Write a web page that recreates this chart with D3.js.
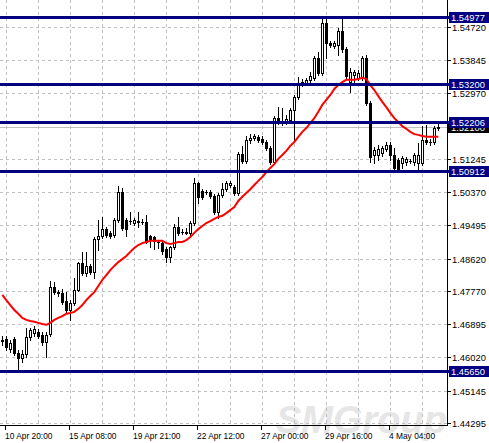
<!DOCTYPE html>
<html><head><meta charset="utf-8">
<script src="https://cdn.jsdelivr.net/npm/d3@7"></script>
<style>html,body{margin:0;padding:0;background:#fff;overflow:hidden}svg{display:block}</style>
</head><body>
<svg id="c" width="489" height="443"></svg>
<script>
const open=[1.4648,1.4651,1.4625,1.4651,1.4614,1.4601,1.4611,1.4656,1.4666,1.4669,
1.4661,1.4643,1.4664,1.4788,1.4774,1.4772,1.4750,1.4727,1.4745,1.4780,
1.4851,1.4824,1.4843,1.4827,1.4914,1.4922,1.4940,1.4930,1.4924,1.4964,
1.5038,1.4964,1.4961,1.4956,1.4959,1.4959,1.4959,1.4922,1.4919,1.4906,
1.4903,1.4888,1.4867,1.4893,1.4945,1.4932,1.4932,1.4930,1.4956,1.5061,
1.5040,1.5038,1.5038,1.5027,1.4985,1.5030,1.5046,1.5056,1.5051,1.5035,
1.5138,1.5119,1.5175,1.5180,1.5182,1.5177,1.5169,1.5154,1.5117,1.5232,
1.5225,1.5222,1.5227,1.5254,1.5288,1.5325,1.5325,1.5333,1.5338,1.5390,
1.5351,1.5483,1.5430,1.5422,1.5425,1.5461,1.5414,1.5327,1.5346,1.5338,
1.5338,1.5390,1.5272,1.5135,1.5135,1.5140,1.5151,1.5161,1.5135,1.5122,
1.5114,1.5117,1.5119,1.5117,1.5114,1.5114,1.5175,1.5169,1.5169,1.5206];
const high=[1.4659,1.4659,1.4648,1.4656,1.4622,1.4622,1.4680,1.4680,1.4685,1.4677,
1.4669,1.4669,1.4803,1.4801,1.4780,1.4782,1.4774,1.4753,1.4811,1.4853,
1.4880,1.4880,1.4848,1.4919,1.4964,1.4972,1.4945,1.4935,1.4969,1.5053,
1.5048,1.4969,1.4985,1.4969,1.4985,1.4967,1.4977,1.4924,1.4922,1.4911,
1.4906,1.4893,1.4895,1.4953,1.4972,1.4940,1.4943,1.4961,1.5074,1.5064,
1.5046,1.5043,1.5043,1.5032,1.5035,1.5061,1.5067,1.5067,1.5056,1.5143,
1.5159,1.5185,1.5190,1.5190,1.5188,1.5185,1.5175,1.5159,1.5238,1.5261,
1.5259,1.5240,1.5259,1.5293,1.5340,1.5335,1.5338,1.5354,1.5396,1.5406,
1.5496,1.5495,1.5435,1.5435,1.5469,1.5498,1.5419,1.5364,1.5359,1.5359,
1.5396,1.5398,1.5277,1.5156,1.5161,1.5159,1.5169,1.5169,1.5154,1.5127,
1.5132,1.5130,1.5125,1.5140,1.5167,1.5211,1.5214,1.5177,1.5211,1.5219];
const low=[1.4635,1.4622,1.4616,1.4609,1.4569,1.4590,1.4603,1.4648,1.4659,1.4653,
1.4635,1.4603,1.4659,1.4769,1.4764,1.4743,1.4722,1.4701,1.4740,1.4777,
1.4819,1.4816,1.4822,1.4811,1.4885,1.4917,1.4919,1.4917,1.4919,1.4959,
1.4938,1.4922,1.4953,1.4951,1.4945,1.4953,1.4903,1.4893,1.4888,1.4890,
1.4874,1.4853,1.4853,1.4888,1.4924,1.4927,1.4927,1.4924,1.4951,1.5009,
1.5019,1.5032,1.5022,1.4980,1.4969,1.5024,1.5040,1.5051,1.5030,1.5030,
1.5114,1.5114,1.5167,1.5175,1.5169,1.5164,1.5148,1.5111,1.5111,1.5217,
1.5214,1.5217,1.5222,1.5175,1.5282,1.5317,1.5319,1.5327,1.5333,1.5346,
1.5346,1.5390,1.5419,1.5417,1.5398,1.5406,1.5338,1.5301,1.5327,1.5333,
1.5333,1.5267,1.5117,1.5114,1.5122,1.5132,1.5146,1.5122,1.5096,1.5090,
1.5101,1.5109,1.5114,1.5109,1.5096,1.5109,1.5164,1.5161,1.5164,1.5201];
const close=[1.4646,1.4630,1.4640,1.4614,1.4601,1.4611,1.4656,1.4674,1.4677,1.4659,
1.4643,1.4661,1.4788,1.4774,1.4772,1.4748,1.4727,1.4745,1.4780,1.4851,
1.4824,1.4843,1.4827,1.4914,1.4922,1.4940,1.4924,1.4922,1.4964,1.5038,
1.4943,1.4940,1.4962,1.4964,1.4961,1.4958,1.4906,1.4911,1.4909,1.4905,
1.4882,1.4867,1.4893,1.4945,1.4930,1.4933,1.4931,1.4956,1.5061,1.5024,
1.5024,1.5037,1.5027,1.4985,1.5030,1.5046,1.5061,1.5061,1.5035,1.5138,
1.5119,1.5175,1.5180,1.5185,1.5175,1.5169,1.5154,1.5117,1.5232,1.5222,
1.5224,1.5230,1.5254,1.5288,1.5325,1.5327,1.5333,1.5343,1.5390,1.5351,
1.5483,1.5430,1.5425,1.5430,1.5461,1.5414,1.5343,1.5354,1.5354,1.5351,
1.5390,1.5272,1.5130,1.5148,1.5151,1.5154,1.5161,1.5135,1.5101,1.5096,
1.5127,1.5125,1.5120,1.5135,1.5135,1.5175,1.5169,1.5168,1.5206,1.5210];
const ma=[1.4767,1.4753,1.4740,1.4727,1.4717,1.4706,1.4701,1.4698,1.4696,1.4693,
1.4690,1.4688,1.4693,1.4701,1.4706,1.4711,1.4717,1.4719,1.4722,1.4730,
1.4740,1.4753,1.4764,1.4774,1.4790,1.4806,1.4819,1.4832,1.4843,1.4853,
1.4861,1.4869,1.4880,1.4890,1.4898,1.4903,1.4906,1.4909,1.4909,1.4909,
1.4909,1.4903,1.4901,1.4903,1.4906,1.4906,1.4911,1.4919,1.4930,1.4940,
1.4948,1.4956,1.4961,1.4967,1.4972,1.4975,1.4982,1.4990,1.4998,1.5014,
1.5025,1.5035,1.5045,1.5056,1.5067,1.5077,1.5090,1.5101,1.5111,1.5125,
1.5135,1.5146,1.5159,1.5169,1.5183,1.5196,1.5206,1.5219,1.5232,1.5249,
1.5267,1.5280,1.5293,1.5309,1.5319,1.5327,1.5333,1.5333,1.5333,1.5335,
1.5338,1.5335,1.5319,1.5306,1.5290,1.5275,1.5261,1.5246,1.5232,1.5222,
1.5211,1.5204,1.5196,1.5190,1.5188,1.5185,1.5183,1.5183,1.5183,1.5183];
const levels=[1.54977,1.53200,1.52206,1.50912,1.45650];
const priceTicks=[1.54720,1.53845,1.52970,1.52095,1.51245,1.50370,1.49495,1.48620,1.47770,1.46895,1.46020,1.45145,1.44295];
const timeLabels=["10 Apr 20:00","15 Apr 08:00","19 Apr 21:00","22 Apr 12:00","27 Apr 00:00","29 Apr 16:00","4 May 04:00"];

const svg=d3.select("#c");
const n=close.length;
const plotR=447, plotB=425;
const FONT="'Liberation Sans', Arial, sans-serif";
const x=d3.scaleLinear().domain([0,n-1]).range([2.3,438.3]);
const y=d3.scaleLinear().domain([1.44295,1.54720]).range([423,27]);

svg.append("rect").attr("width",489).attr("height",443).attr("fill","#fff");

// watermark
svg.append("text").attr("x",276).attr("y",433).text("SMGroup")
  .attr("font-family",FONT).attr("font-size",38).attr("font-weight","bold").attr("font-style","italic")
  .attr("fill","#e6e6e6");

// grid
const grid=svg.append("g").attr("stroke","#c0c0c0").attr("stroke-width",1).attr("stroke-dasharray","3,3");
priceTicks.forEach(p=>{
  const yy=Math.round(y(p))+0.5;
  grid.append("line").attr("x1",0).attr("x2",plotR).attr("y1",yy).attr("y2",yy);
});
d3.range(1,n,8).forEach(i=>{
  const xx=Math.round(x(i))+0.5;
  grid.append("line").attr("x1",xx).attr("x2",xx).attr("y1",0).attr("y2",plotB);
});

// bid line
const bid=close[n-1];
svg.append("line").attr("x1",0).attr("x2",plotR).attr("y1",Math.round(y(bid))+0.5).attr("y2",Math.round(y(bid))+0.5)
  .attr("stroke","#c0c0c0").attr("stroke-width",1);

// candles
const cg=svg.append("g");
d3.range(n).forEach(i=>{
  const cx=Math.round(x(i));
  const yh=Math.round(y(high[i])), yl=Math.round(y(low[i]));
  cg.append("line").attr("x1",cx+0.5).attr("x2",cx+0.5).attr("y1",yh).attr("y2",yl+1)
    .attr("stroke","#000").attr("stroke-width",1);
  const yo=Math.round(y(open[i])), yc=Math.round(y(close[i]));
  const top=Math.min(yo,yc), bot=Math.max(yo,yc);
  if(bot-top<1){
    cg.append("line").attr("x1",cx-1).attr("x2",cx+2).attr("y1",top+0.5).attr("y2",top+0.5)
      .attr("stroke","#000").attr("stroke-width",1);
  } else {
    cg.append("rect").attr("x",cx-1+0.5).attr("y",top+0.5).attr("width",2).attr("height",bot-top)
      .attr("fill",close[i]>=open[i]?"#fff":"#000").attr("stroke","#000").attr("stroke-width",1);
  }
});

// moving average
svg.append("path").datum(ma)
  .attr("d",d3.line().x((d,i)=>x(i)).y(d=>y(d)))
  .attr("fill","none").attr("stroke","#ff0000").attr("stroke-width",2);

// level lines
levels.forEach(v=>{
  const yy=Math.floor(y(v))+0.5;
  svg.append("line").attr("x1",0).attr("x2",plotR).attr("y1",yy).attr("y2",yy)
    .attr("stroke","#000080").attr("stroke-width",3);
});

// axes
svg.append("line").attr("x1",plotR+0.5).attr("x2",plotR+0.5).attr("y1",0).attr("y2",plotB+1).attr("stroke","#000");
svg.append("line").attr("x1",0).attr("x2",plotR+1).attr("y1",plotB+0.5).attr("y2",plotB+0.5).attr("stroke","#000");

// price labels
const pl=svg.append("g").attr("font-family",FONT).attr("font-size",9.4).attr("fill","#000");
priceTicks.forEach(p=>{
  const yy=Math.round(y(p))+0.5;
  svg.append("line").attr("x1",plotR+1).attr("x2",plotR+4).attr("y1",yy).attr("y2",yy).attr("stroke","#000");
  pl.append("text").attr("x",452).attr("y",yy+3.4).text(p.toFixed(5));
});

// bid label
{
  const yy=Math.round(y(bid))+0.5;
  svg.append("rect").attr("x",plotR+1).attr("y",yy-5.5).attr("width",489-plotR-1).attr("height",11).attr("fill","#000");
  svg.append("text").attr("x",451).attr("y",yy+3.4).text(bid.toFixed(5))
    .attr("font-family",FONT).attr("font-size",9.4).attr("fill","#fff");
}

// level labels
levels.forEach(v=>{
  const yy=Math.floor(y(v))+0.5;
  svg.append("line").attr("x1",plotR).attr("x2",plotR+2).attr("y1",yy).attr("y2",yy).attr("stroke","#000080").attr("stroke-width",3);
  svg.append("rect").attr("x",plotR+2).attr("y",yy-5.5).attr("width",489-plotR-2).attr("height",11).attr("fill","#000080");
  svg.append("text").attr("x",451).attr("y",yy+3.4).text(v.toFixed(5))
    .attr("font-family",FONT).attr("font-size",9.4).attr("fill","#fff");
});

// time labels
const tg=svg.append("g").attr("font-family",FONT).attr("font-size",8.4).attr("fill","#000");
timeLabels.forEach((t,k)=>{
  const i=1+16*k;
  const xx=Math.round(x(i));
  svg.append("line").attr("x1",xx-0.5).attr("x2",xx-0.5).attr("y1",plotB+1).attr("y2",plotB+5).attr("stroke","#000");
  tg.append("text").attr("x",xx-1).attr("y",439).text(t);
});
</script>
</body></html>
